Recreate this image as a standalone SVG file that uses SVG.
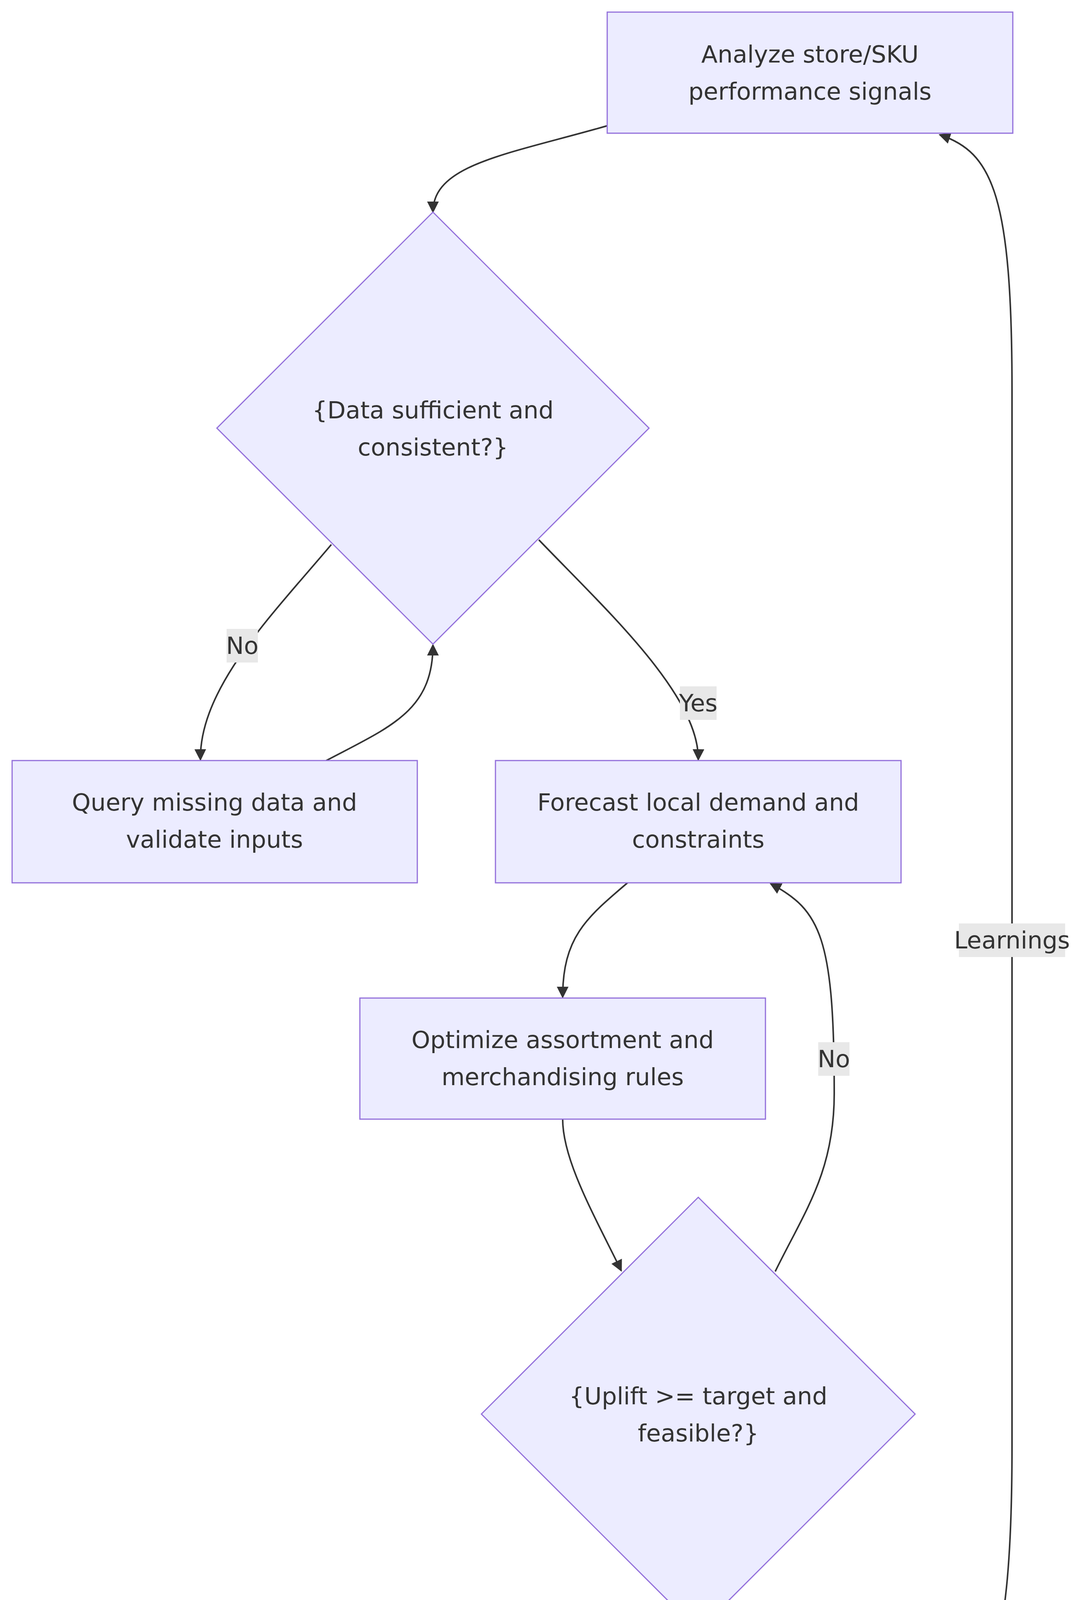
<svg xmlns="http://www.w3.org/2000/svg" width="2764" height="4824" viewBox="0 0 2764 4824">
<style>
.n{fill:#ececff;stroke:#9370db;stroke-width:3}
.t{font-family:"DejaVu Sans","Noto Sans",sans-serif;font-size:61px;fill:#333;text-anchor:middle}
.e{fill:none;stroke:#333;stroke-width:4}
.lb{fill:#e8e8e8}
</style>
<defs>
<marker id="a" viewBox="0 0 10 10" refX="9" refY="5" markerWidth="30" markerHeight="30" markerUnits="userSpaceOnUse" orient="auto"><path d="M0,0L10,5L0,10z" fill="#333"/></marker></defs>
<rect width="2764" height="4824" fill="#fff"/>
<g id="edges">
<path class="e" marker-end="url(#a)" d="M1554,322 C1300,395 1108,420 1108,543"/>
<path class="e" marker-end="url(#a)" d="M848,1394 C700,1570 510,1760 513,1945"/>
<path class="e" marker-end="url(#a)" d="M835,1947 C1000,1860 1108,1820 1108,1651"/>
<path class="e" marker-end="url(#a)" d="M1379,1382 C1550,1560 1790,1780 1787,1945"/>
<path class="e" marker-end="url(#a)" d="M1606,2260 C1500,2350 1440,2400 1440,2553"/>
<path class="e" marker-end="url(#a)" d="M1440,2865 C1440,2970 1520,3110 1590,3253"/>
<path class="e" marker-end="url(#a)" d="M1984,3255 C2060,3100 2135,3000 2135,2800 C2135,2400 2100,2330 1972,2262"/>
<path class="e" marker-end="url(#a)" d="M1787,4175 C1787,4300 1830,4340 1950,4469"/>
<path class="e" marker-end="url(#a)" d="M2371,4471 C2530,4380 2590,4250 2590,3700 L2590,1000 C2590,500 2540,390 2405,345"/>
<rect class="lb" x="580" y="1610" width="80" height="86"/><text class="t" x="620" y="1674">No</text>
<rect class="lb" x="1740" y="1757" width="94" height="86"/><text class="t" x="1787" y="1821">Yes</text>
<rect class="lb" x="2094" y="2668" width="80" height="86"/><text class="t" x="2134" y="2732">No</text>
<rect class="lb" x="1740" y="4280" width="94" height="86"/><text class="t" x="1787" y="4344">Yes</text>
<rect class="lb" x="2454" y="2364" width="272" height="86"/><text class="t" x="2590" y="2428">Learnings</text>
</g>
<g id="A"><rect class="n" x="1554" y="31" width="1038" height="310"/><text class="t" x="2073" y="160">Analyze store/SKU</text><text class="t" x="2073" y="255">performance signals</text></g>
<g id="D1"><polygon class="n" points="1108,543 1661,1096 1108,1649 555,1096"/><text class="t" x="1108" y="1071">{Data sufficient and</text><text class="t" x="1108" y="1166">consistent?}</text></g>
<g id="Q"><rect class="n" x="31" y="1947" width="1037" height="313"/><text class="t" x="549" y="2075">Query missing data and</text><text class="t" x="549" y="2170">validate inputs</text></g>
<g id="F"><rect class="n" x="1268" y="1947" width="1038" height="313"/><text class="t" x="1787" y="2075">Forecast local demand and</text><text class="t" x="1787" y="2170">constraints</text></g>
<g id="O"><rect class="n" x="921" y="2555" width="1038" height="310"/><text class="t" x="1440" y="2683">Optimize assortment and</text><text class="t" x="1440" y="2778">merchandising rules</text></g>
<g id="D2"><polygon class="n" points="1787,3065 2342,3620 1787,4175 1232,3620"/><text class="t" x="1787" y="3595">{Uplift &gt;= target and</text><text class="t" x="1787" y="3690">feasible?}</text></g>
<g id="Dp"><rect class="n" x="1615" y="4471" width="1038" height="310"/><text class="t" x="2134" y="4599">Deploy test-and-learn and</text><text class="t" x="2134" y="4694">summarize impact</text></g>
</svg>
